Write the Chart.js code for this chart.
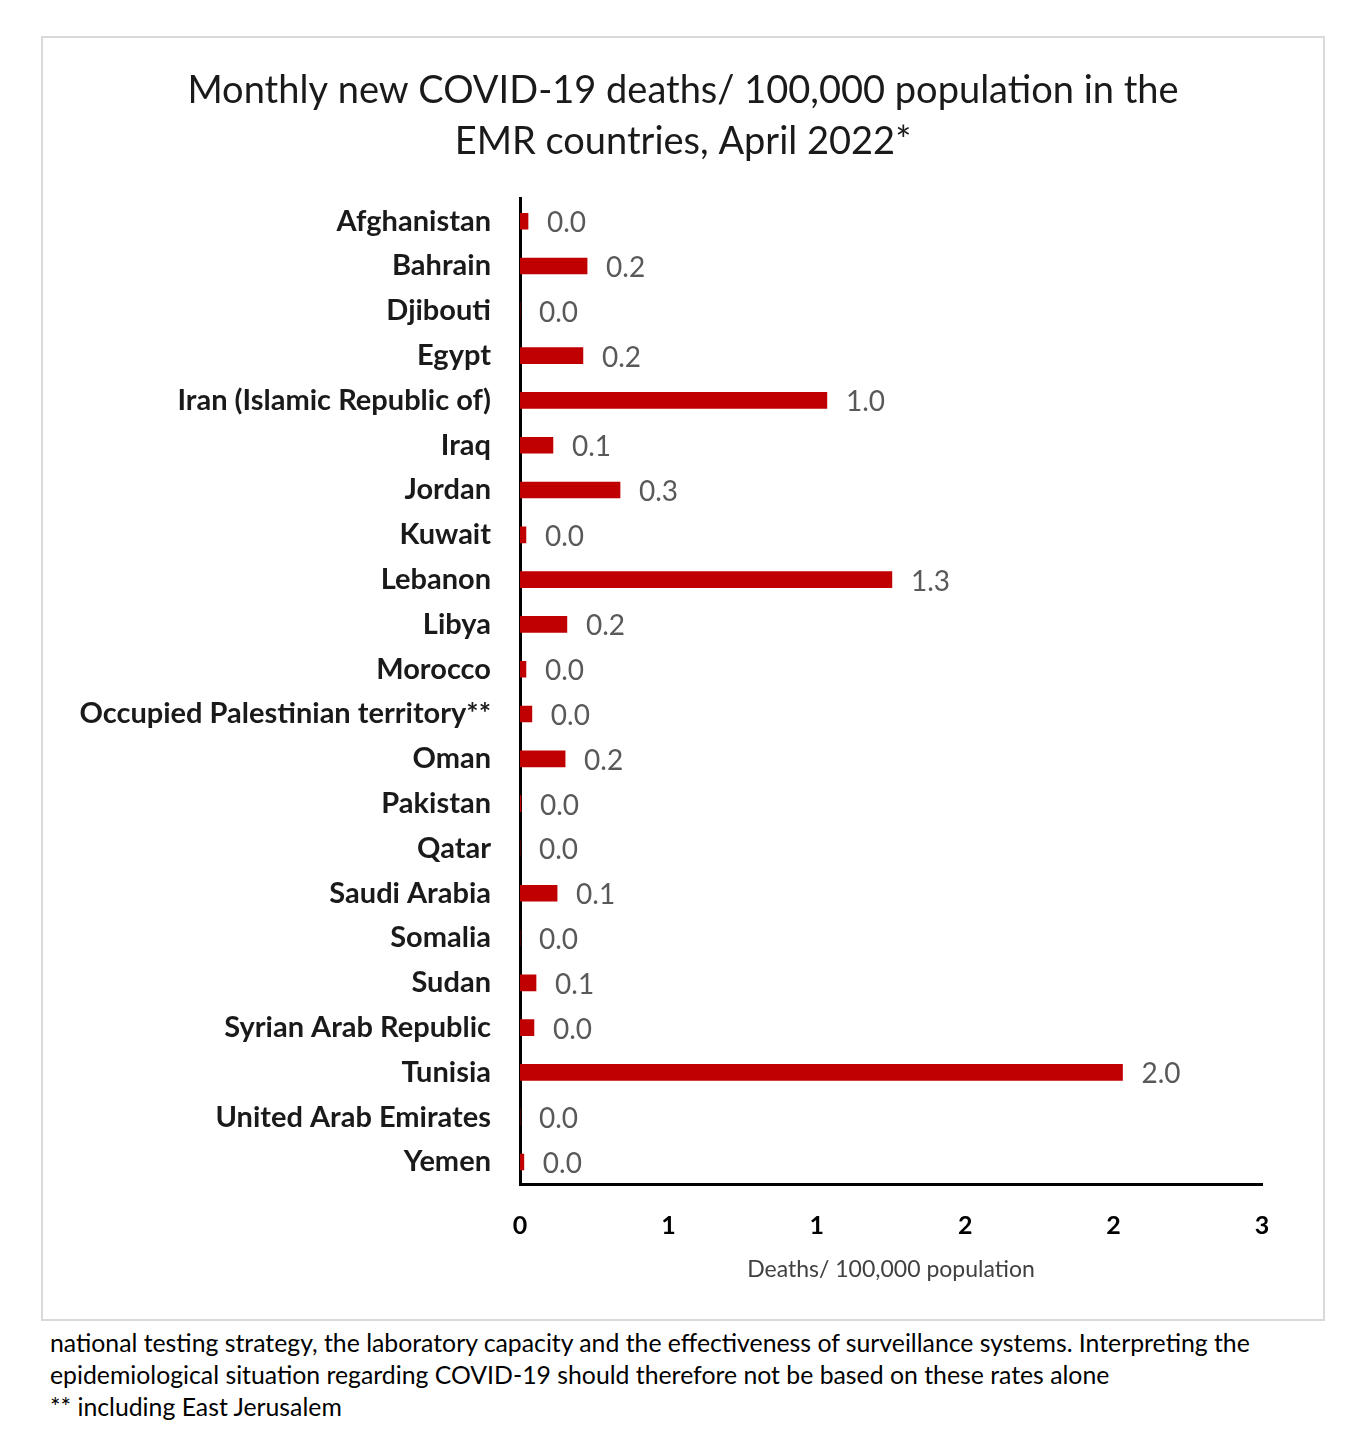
<!DOCTYPE html>
<html>
<head>
<meta charset="utf-8">
<script src="https://cdn.jsdelivr.net/npm/chart.js@4.4.1/dist/chart.umd.min.js"></script>
<style>
  body { margin: 0; background: #fff; width: 1361px; height: 1436px; position: relative; font-family: Lato, "Open Sans", sans-serif; }
  #box { position: absolute; left: 41px; top: 36px; width: 1280px; height: 1281px; border: 2px solid #d9d9d9; background: #fff; }
  #note { position: absolute; left: 50px; top: 1327px; font-size: 24.8px; line-height: 32px; color: #000; }
</style>
</head>
<body>
<div id="box"><canvas id="chart" width="1280" height="1281"></canvas></div>
<div id="note">national testing strategy, the laboratory capacity and the effectiveness of surveillance systems. Interpreting the<br>epidemiological situation regarding COVID-19 should therefore not be based on these rates alone<br>** including East Jerusalem</div>
<script>
// data (deaths / 100,000)
const countries = ["Afghanistan", "Bahrain", "Djibouti", "Egypt", "Iran (Islamic Republic of)", "Iraq", "Jordan", "Kuwait",
  "Lebanon", "Libya", "Morocco", "Occupied Palestinian territory**", "Oman", "Pakistan", "Qatar", "Saudi Arabia",
  "Somalia", "Sudan", "Syrian Arab Republic", "Tunisia", "United Arab Emirates", "Yemen"];
const deaths = [0.027, 0.226, 0.0, 0.212, 1.034, 0.111, 0.337, 0.02,
  1.253, 0.158, 0.02, 0.04, 0.152, 0.003, 0.0, 0.125,
  0.0, 0.054, 0.047, 2.03, 0.0, 0.013];
const tickLabels = ["0", "1", "1", "2", "2", "3"];

const barColor = "#c00000";

// value labels at the end of each bar
const valueLabels = {
  id: "valueLabels",
  afterDatasetsDraw(chart) {
    const ctx = chart.ctx;
    const meta = chart.getDatasetMeta(0);
    ctx.save();
    ctx.font = "28px Lato";
    ctx.fillStyle = "#595959";
    ctx.textAlign = "left";
    ctx.textBaseline = "middle";
    meta.data.forEach((bar, i) => {
      ctx.fillText(deaths[i].toFixed(1), bar.x + 19, bar.y + 2);
    });
    ctx.restore();
  }
};

new Chart(document.getElementById("chart"), {
  type: "bar",
  data: {
    labels: countries,
    datasets: [{ data: deaths, backgroundColor: barColor, barThickness: 16 }]
  },
  options: {
    indexAxis: "y",
    responsive: false,
    animation: false,
    layout: { padding: { left: 0, right: 0, top: 0, bottom: 32 } },
    plugins: {
      legend: { display: false },
      tooltip: { enabled: false },
      title: {
        display: true,
        text: ["Monthly new COVID-19 deaths/ 100,000 population in the", "EMR countries, April 2022*"],
        font: { family: "Lato", size: 38, weight: "normal", lineHeight: 1.34 },
        color: "#1a1a1a",
        padding: { top: 27, bottom: 32 }
      }
    },
    scales: {
      x: {
        min: 0,
        max: 2.5,
        ticks: {
          stepSize: 0.5,
          padding: 19,
          color: "#000",
          font: { family: "Lato", size: 25, weight: "bold" },
          callback: (v, i) => tickLabels[i]
        },
        grid: { display: false },
        border: { display: true, color: "#000", width: 3 },
        title: {
          display: true,
          text: "Deaths/ 100,000 population",
          color: "#404040",
          font: { family: "Lato", size: 23 },
          padding: { top: 18 }
        },
        afterFit(scale) { scale.height = 102.6; }
      },
      y: {
        ticks: {
          padding: 21,
          color: "#1a1a1a",
          font: { family: "Lato", size: 29, weight: "bold" }
        },
        grid: { display: false },
        border: { display: true, color: "#000", width: 3 },
        afterFit(scale) { scale.width = 477; }
      },
      // empty right-hand space so the title stays centred on the box
      yRight: {
        axis: "y",
        position: "right",
        ticks: { display: false },
        grid: { display: false },
        border: { display: false },
        afterFit(scale) { scale.width = 61; }
      }
    }
  },
  plugins: [valueLabels]
});
</script>
</body>
</html>
